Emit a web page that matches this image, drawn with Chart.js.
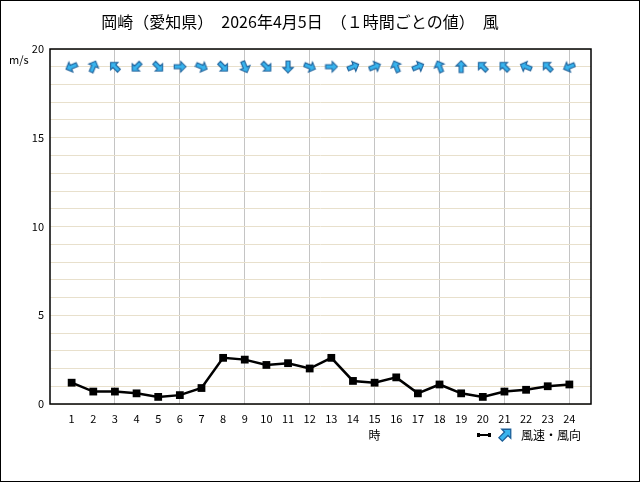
<!DOCTYPE html>
<html>
<head>
<meta charset="utf-8">
<script src="https://cdn.jsdelivr.net/npm/chart.js@4.4.1/dist/chart.umd.min.js"></script>
<style>
  body { margin: 0; background: #fff; }
  canvas { display: block; }
</style>
</head>
<body>
<canvas id="myChart" width="640" height="482"></canvas>
<script>
// 1時間ごとの値
const hours = [1,2,3,4,5,6,7,8,9,10,11,12,13,14,15,16,17,18,19,20,21,22,23,24];
const windSpeed = [1.2,0.7,0.7,0.6,0.4,0.5,0.9,2.6,2.5,2.2,2.3,2.0,2.6,1.3,1.2,1.5,0.6,1.1,0.6,0.4,0.7,0.8,1.0,1.1];
// 矢印の向き（画面上、上=0度、時計回り）
const arrowDeg = [247.5,22.5,315,225,135,90,112.5,135,157.5,135,180,112.5,90,67.5,67.5,337.5,67.5,337.5,0,315,315,292.5,315,247.5];
const arrowRow = 19;
const titleText = '岡崎（愛知県）　2026年4月5日　（１時間ごとの値）　風';
const legendText = '風速・風向';

const FONT = '"Noto Sans CJK JP", "DejaVu Sans", sans-serif';

function makeArrow(deg, size) {
  const c = document.createElement('canvas');
  c.width = size; c.height = size;
  const g = c.getContext('2d');
  const s = size / 16;
  g.translate(size / 2, size / 2);
  g.rotate(deg * Math.PI / 180);
  g.scale(s, s);
  g.beginPath();
  g.moveTo(0, -7);
  g.lineTo(6, -1);
  g.lineTo(2.3, -1);
  g.lineTo(2.3, 6.5);
  g.lineTo(-2.3, 6.5);
  g.lineTo(-2.3, -1);
  g.lineTo(-6, -1);
  g.closePath();
  g.fillStyle = '#38b4ee';
  g.fill();
  g.lineWidth = 1.2;
  g.strokeStyle = '#1b5e98';
  g.stroke();
  return c;
}

const arrowImgs = arrowDeg.map(d => makeArrow(d, 14));

const extras = {
  id: 'extras',
  afterDraw(chart) {
    const ctx = chart.ctx;
    const a = chart.chartArea;
    const xs = chart.scales.x;
    ctx.save();
    // 枠
    ctx.strokeStyle = '#000';
    ctx.lineWidth = 1.5;
    ctx.strokeRect(a.left, a.top, a.right - a.left, a.bottom - a.top);
    ctx.lineWidth = 1;
    ctx.strokeRect(0.5, 0.5, 639, 481);
    // タイトル
    ctx.fillStyle = '#000';
    ctx.font = '16px ' + FONT;
    ctx.textAlign = 'center';
    ctx.textBaseline = 'middle';
    ctx.fillText(titleText, 300, 22);
    // 単位
    ctx.font = '11px ' + FONT;
    ctx.textAlign = 'left';
    ctx.fillText('m/s', 9, 60);
    // 時
    ctx.font = '12px ' + FONT;
    ctx.textAlign = 'center';
    ctx.fillText('時', xs.getPixelForValue(15), 435);
    // 凡例
    const ly = 435;
    ctx.strokeStyle = '#000';
    ctx.lineWidth = 2;
    ctx.beginPath();
    ctx.moveTo(479, ly); ctx.lineTo(489, ly);
    ctx.stroke();
    ctx.fillRect(477, ly - 2, 3, 4);
    ctx.fillRect(488, ly - 2, 3, 4);
    ctx.drawImage(makeArrow(45, 17), 497, ly - 9);
    ctx.textAlign = 'left';
    ctx.font = '12px ' + FONT;
    ctx.fillText(legendText, 521, ly);
    ctx.restore();
  }
};

const canvas = document.getElementById('myChart');
const context = canvas.getContext('2d');

new Chart(context, {
  type: 'line',
  data: {
    datasets: [
      {
        label: '風速',
        data: hours.map((h, i) => ({ x: h, y: windSpeed[i] })),
        borderColor: '#000',
        backgroundColor: '#000',
        borderWidth: 2.5,
        pointStyle: 'rect',
        pointRadius: 5.5,
        pointBorderWidth: 0,
        tension: 0
      },
      {
        label: '風向',
        data: hours.map(h => ({ x: h, y: arrowRow })),
        showLine: false,
        pointStyle: arrowImgs,
        pointRadius: 7
      }
    ]
  },
  options: {
    responsive: false,
    animation: false,
    layout: { padding: { left: 0, top: 49, right: 49, bottom: 0 } },
    plugins: {
      legend: { display: false },
      tooltip: { enabled: false }
    },
    scales: {
      x: {
        type: 'linear',
        min: 0,
        max: 25,
        afterBuildTicks(scale) {
          scale.ticks = [];
          for (let v = 0; v <= 25; v++) scale.ticks.push({ value: v });
        },
        afterFit(scale) { scale.height = 482 - 49 - 355; },
        ticks: {
          autoSkip: false,
          maxRotation: 0,
          padding: 8,
          color: '#000',
          font: { family: FONT, size: 11 },
          callback: v => (v >= 1 && v <= 24 ? String(v) : '')
        },
        grid: {
          drawTicks: false,
          lineWidth: 1,
          color: c => (c.tick && c.tick.value % 3 === 0 && c.tick.value > 0 && c.tick.value < 25 ? '#c4c4c4' : 'rgba(0,0,0,0)')
        },
        border: { display: false }
      },
      y: {
        min: 0,
        max: 20,
        afterBuildTicks(scale) {
          scale.ticks = [];
          for (let v = 0; v <= 20; v++) scale.ticks.push({ value: v });
        },
        afterFit(scale) { scale.width = 50; },
        ticks: {
          autoSkip: false,
          padding: 6,
          color: '#000',
          font: { family: FONT, size: 11 },
          callback: v => (v % 5 === 0 ? String(v) : '')
        },
        grid: {
          drawTicks: false,
          lineWidth: 1,
          color: '#e8e0cc'
        },
        border: { display: false }
      }
    }
  },
  plugins: [extras]
});
</script>
</body>
</html>
